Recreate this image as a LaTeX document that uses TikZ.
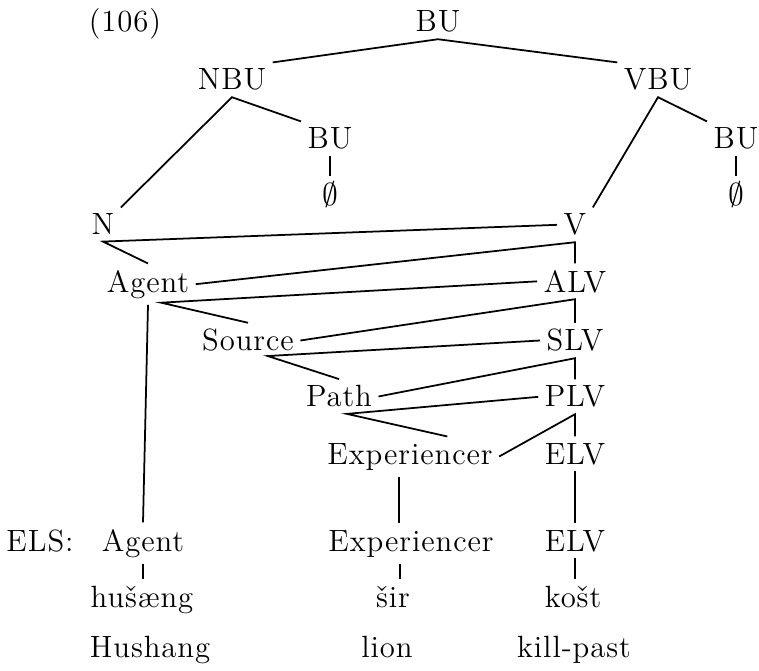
\documentclass[tikz,border=0pt]{standalone}
\usepackage{fontspec}
\setmainfont{lmroman12-regular.otf}[LetterSpace=3]
\begin{document}
\begin{tikzpicture}[x=0.016cm,y=-0.016cm,font=\fontsize{14}{16}\selectfont,
    every node/.style={anchor=base,inner sep=1.5pt,outer sep=1.5pt},
    every path/.style={line width=0.8pt}]
        \useasboundingbox (0,0) rectangle (759,671);
        \node (num) at (125,32) {(106)};
        \node (BU) at (438,32) {BU};
        \node (NBU) at (232,90) {NBU};
        \node (VBU) at (658,90) {VBU};
        \node (BUn) at (330,149) {BU};
        \node (BUv) at (736,149) {BU};
        \node (phin) at (330,206) {$\emptyset$};
        \node (phiv) at (736,206) {$\emptyset$};
        \node (N) at (103,235) {N};
        \node (V) at (575,235) {V};
        \node (Ag) at (148,292) {Agent};
        \node (ALV) at (575,292) {ALV};
        \node (So) at (248,351) {Source};
        \node (SLV) at (575,351) {SLV};
        \node (Pa) at (339,407) {Path};
        \node (PLV) at (575,407) {PLV};
        \node (Ex) at (410,464) {Experiencer};
        \node (ELV) at (575,464) {ELV};
        \node (els) at (40,551) {ELS:};
        \node (elsAg) at (143,551) {Agent};
        \node (elsEx) at (411,551) {Experiencer};
        \node (elsELV) at (575,551) {ELV};
        \node (hus) at (142,607) {hušæng};
        \node (sir) at (393,607) {šir};
        \node (kost) at (573,607) {košt};
        \node (glH) at (150,657) {Hushang};
        \node (glL) at (387,657) {lion};
        \node (glK) at (574,657) {kill-past};
        \coordinate (agJ) at ([xshift=6pt,yshift=1pt]Ag.south);
        \coordinate (soJ) at ([xshift=9pt,yshift=1pt]So.south);
        \coordinate (paJ) at ([xshift=3.6pt]Pa.south);
        \coordinate (exJ) at ([xshift=-5pt]Ex.south);
        \coordinate (exsJ) at ([xshift=-5pt]elsEx.south);
        \draw (BU.south)--(NBU.north east);
        \draw (BU.south)--(VBU.north west);
        \draw (N.north east)--(NBU.south)--(BUn.north west);
        \draw (V.north east)--(VBU.south)--(BUv.north west);
        \draw (BUn.south)--(phin.north);
        \draw (BUv.south)--(phiv.north);
        \draw (V.west)--(N.south)--(Ag.north);
        \draw (Ag.east)--(V.south)--(ALV.north);
        \draw (ALV.west)--(agJ)--(So.north);
        \draw (So.east)--(ALV.south)--(SLV.north);
        \draw (SLV.west)--(soJ)--(Pa.north);
        \draw (Pa.east)--(SLV.south)--(PLV.north);
        \draw (PLV.west)--(paJ)--([xshift=17pt]Ex.north);
        \draw (Ex.east)--(PLV.south)--(ELV.north);
        \draw (Ag.south)--(elsAg.north);
        \draw (exJ)--(exJ |- elsEx.north);
        \draw (ELV.south)--(elsELV.north);
        \draw (elsAg.south)--(elsAg.south |- hus.north);
        \draw (exsJ)--(exsJ |- sir.north);
        \draw (elsELV.south)--(elsELV.south |- kost.north);
\end{tikzpicture}
\end{document}
